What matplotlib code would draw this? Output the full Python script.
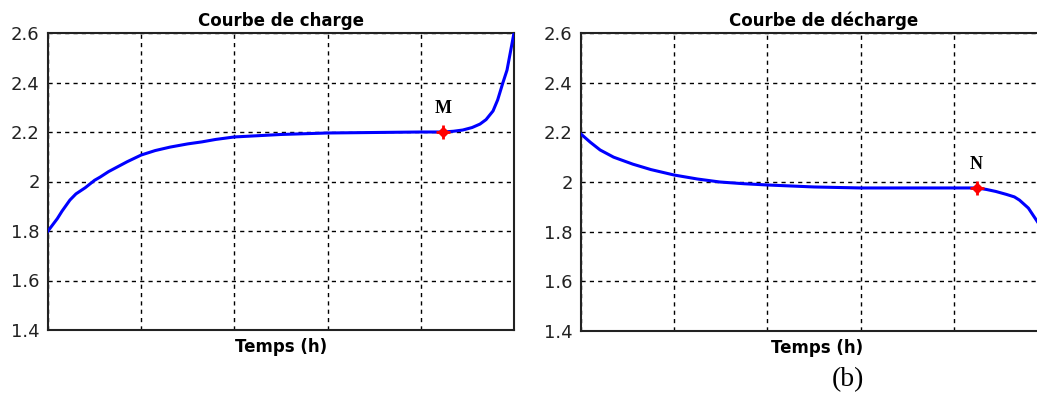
import matplotlib
matplotlib.use("Agg")
import matplotlib.pyplot as plt

# ---- data (time as fraction of the run, voltage in V) ----
charge_t = [0.0, 0.02, 0.03, 0.047, 0.06, 0.08, 0.1, 0.112, 0.13, 0.15, 0.17, 0.2,
            0.23, 0.262, 0.3, 0.33, 0.36, 0.4, 0.45, 0.5, 0.55, 0.6, 0.65, 0.7,
            0.75, 0.8, 0.848, 0.87, 0.89, 0.91, 0.927, 0.94, 0.955, 0.965, 0.976,
            0.985, 0.99, 0.995, 1.0]
charge_v = [1.80, 1.85, 1.88, 1.925, 1.95, 1.975, 2.005, 2.018, 2.04, 2.06, 2.08, 2.107,
            2.125, 2.139, 2.152, 2.16, 2.17, 2.18, 2.185, 2.19, 2.193, 2.196, 2.197, 2.198,
            2.199, 2.2, 2.2, 2.203, 2.208, 2.218, 2.232, 2.25, 2.285, 2.33, 2.398,
            2.45, 2.5, 2.55, 2.6]
discharge_t = [0.0, 0.02, 0.041, 0.07, 0.111, 0.15, 0.2, 0.25, 0.298, 0.35, 0.4, 0.45,
               0.5, 0.55, 0.6, 0.7, 0.8, 0.849, 0.87, 0.89, 0.913, 0.93, 0.941, 0.96,
               0.977, 0.99, 1.0]
discharge_v = [2.193, 2.16, 2.129, 2.1, 2.072, 2.05, 2.028, 2.012, 2.0, 1.993, 1.988, 1.984,
               1.98, 1.978, 1.976, 1.976, 1.976, 1.976, 1.97, 1.962, 1.95, 1.94, 1.927, 1.895,
               1.847, 1.81, 1.78]
point_M = (0.848, 2.2)
point_N = (0.849, 1.976)
yticks = [1.4, 1.6, 1.8, 2.0, 2.2, 2.4, 2.6]
ytick_labels = ["1.4", "1.6", "1.8", "2", "2.2", "2.4", "2.6"]
xticks = [0.0, 0.2, 0.4, 0.6, 0.8, 1.0]
titles = ["Courbe de charge", "Courbe de décharge"]
xlabel = "Temps (h)"

W, H = 1037, 397
fig = plt.figure(figsize=(W / 100, H / 100), dpi=100, facecolor="white")

def px(l, t, r, b):
    return [l / W, 1 - b / H, (r - l) / W, (b - t) / H]

ax1 = fig.add_axes(px(48, 33, 514, 330))
ax2 = fig.add_axes(px(581, 33, 1047, 331))

for ax, t, v, pt, lab, title in [
    (ax1, charge_t, charge_v, point_M, "M", titles[0]),
    (ax2, discharge_t, discharge_v, point_N, "N", titles[1]),
]:
    ax.plot(t, v, color="#0000ff", lw=2.2, zorder=3)
    ax.plot([pt[0]], [pt[1]], marker="D", color="red", ms=5.5, zorder=4, mec="red")
    ax.plot([pt[0]], [pt[1]], marker="+", color="red", ms=10, mew=2, zorder=4)
    ax.annotate(lab, pt, xytext=(0, 11), textcoords="offset points",
                ha="center", va="bottom", fontsize=13, fontweight="bold",
                family="Liberation Serif")
    ax.set_xlim(0, 1)
    ax.set_ylim(1.4, 2.6)
    ax.set_xticks(xticks)
    ax.set_xticklabels([])
    ax.set_yticks(yticks)
    ax.set_yticklabels(ytick_labels, fontsize=13, color="#222222")
    ax.tick_params(axis="both", length=0, pad=6)
    ax.grid(True, color="black", linestyle=(0, (3, 3)), lw=1.0)
    ax.set_axisbelow(True)
    for s in ax.spines.values():
        s.set_linewidth(1.5)
        s.set_color("#222222")
    ax.set_title(title, fontsize=12, fontweight="bold", pad=5)
    ax.set_xlabel(xlabel, fontsize=12, fontweight="bold", labelpad=0)

ax2.title.set_x(0.52)
ax2.xaxis.label.set_x(0.507)

fig.text(848 / W, 1 - 380 / H, "(b)", ha="center", va="center",
         fontsize=20, family="Liberation Serif")

fig.savefig("out.png", dpi=100, facecolor="white")
